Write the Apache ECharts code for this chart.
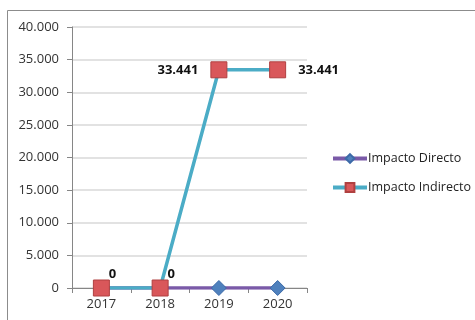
<!DOCTYPE html>
<html><head><meta charset="utf-8">
<script src="https://cdn.jsdelivr.net/npm/echarts@6/dist/echarts.min.js"></script>
<style>html,body{margin:0;padding:0;background:#fff}#c{width:475px;height:320px}</style>
</head><body><div id="c"></div>
<script>
const categories = ['2017', '2018', '2019', '2020'];
const directo = [0, 0, 0, 0];
const indirecto = [0, 0, 33441, 33441];
const yTicks = [0, 5000, 10000, 15000, 20000, 25000, 30000, 35000, 40000];
const labelPos = ['top', 'top', 'left', 'right'];

function fmt(v) { return String(Math.round(v)).replace(/\B(?=(\d{3})+(?!\d))/g, '.'); }

const chart = echarts.init(document.getElementById('c'));
const font = 'Open Sans, Noto Sans, sans-serif';
chart.setOption({
  animation: false,
  textStyle: { fontFamily: font },
  graphic: [{ type: 'rect', shape: { x: 7.5, y: 10.5, width: 480, height: 320 }, style: { fill: 'none', stroke: '#8c8c8c', lineWidth: 1 }, z: 0 }],
  grid: { left: 72, right: 168, top: 27, bottom: 32 },
  legend: {
    orient: 'vertical', left: 326, top: 147, itemWidth: 34, itemHeight: 11, itemGap: 16,
    textStyle: { fontSize: 12.5, color: '#222', fontFamily: font, padding: [0, 0, 0, -4] },
    lineStyle: { width: 4 },
    data: ['Impacto Directo', 'Impacto Indirecto']
  },
  xAxis: {
    type: 'category', data: categories, boundaryGap: true,
    axisLine: { lineStyle: { color: '#868686' } },
    axisTick: { show: true, inside: false, length: 5, lineStyle: { color: '#868686' } },
    axisLabel: { color: '#333', fontSize: 13, margin: 10 }
  },
  yAxis: {
    type: 'value', min: 0, max: 40000, interval: 5000,
    axisLine: { show: true, lineStyle: { color: '#868686' } },
    axisTick: { show: true, length: 5, lineStyle: { color: '#868686' } },
    splitLine: { lineStyle: { color: '#d9d9d9', width: 1.5 } },
    axisLabel: { color: '#333', fontSize: 13, margin: 13, formatter: v => yTicks.includes(v) ? fmt(v) : '' }
  },
  series: [
    {
      name: 'Impacto Directo', type: 'line', data: directo, z: 2,
      symbol: 'diamond', symbolSize: 15,
      lineStyle: { color: '#7a5aa8', width: 3.5 },
      itemStyle: { color: '#4f81bd', borderColor: '#3c6aa8', borderWidth: 1 }
    },
    {
      name: 'Impacto Indirecto', type: 'line', z: 3,
      symbol: 'rect', symbolSize: 16,
      lineStyle: { color: '#4bacc6', width: 3.5 },
      itemStyle: { color: '#d9575a', borderColor: '#b04040', borderWidth: 1 },
      data: indirecto.map((v, i) => ({
        value: v,
        label: {
          show: true, position: labelPos[i], formatter: p => fmt(p.value),
          fontWeight: 'bold', fontSize: 13, color: '#111', distance: i < 2 ? 4 : 12,
          offset: i < 2 ? [11, 5] : [0, 0]
        }
      }))
    }
  ]
});
</script></body></html>
